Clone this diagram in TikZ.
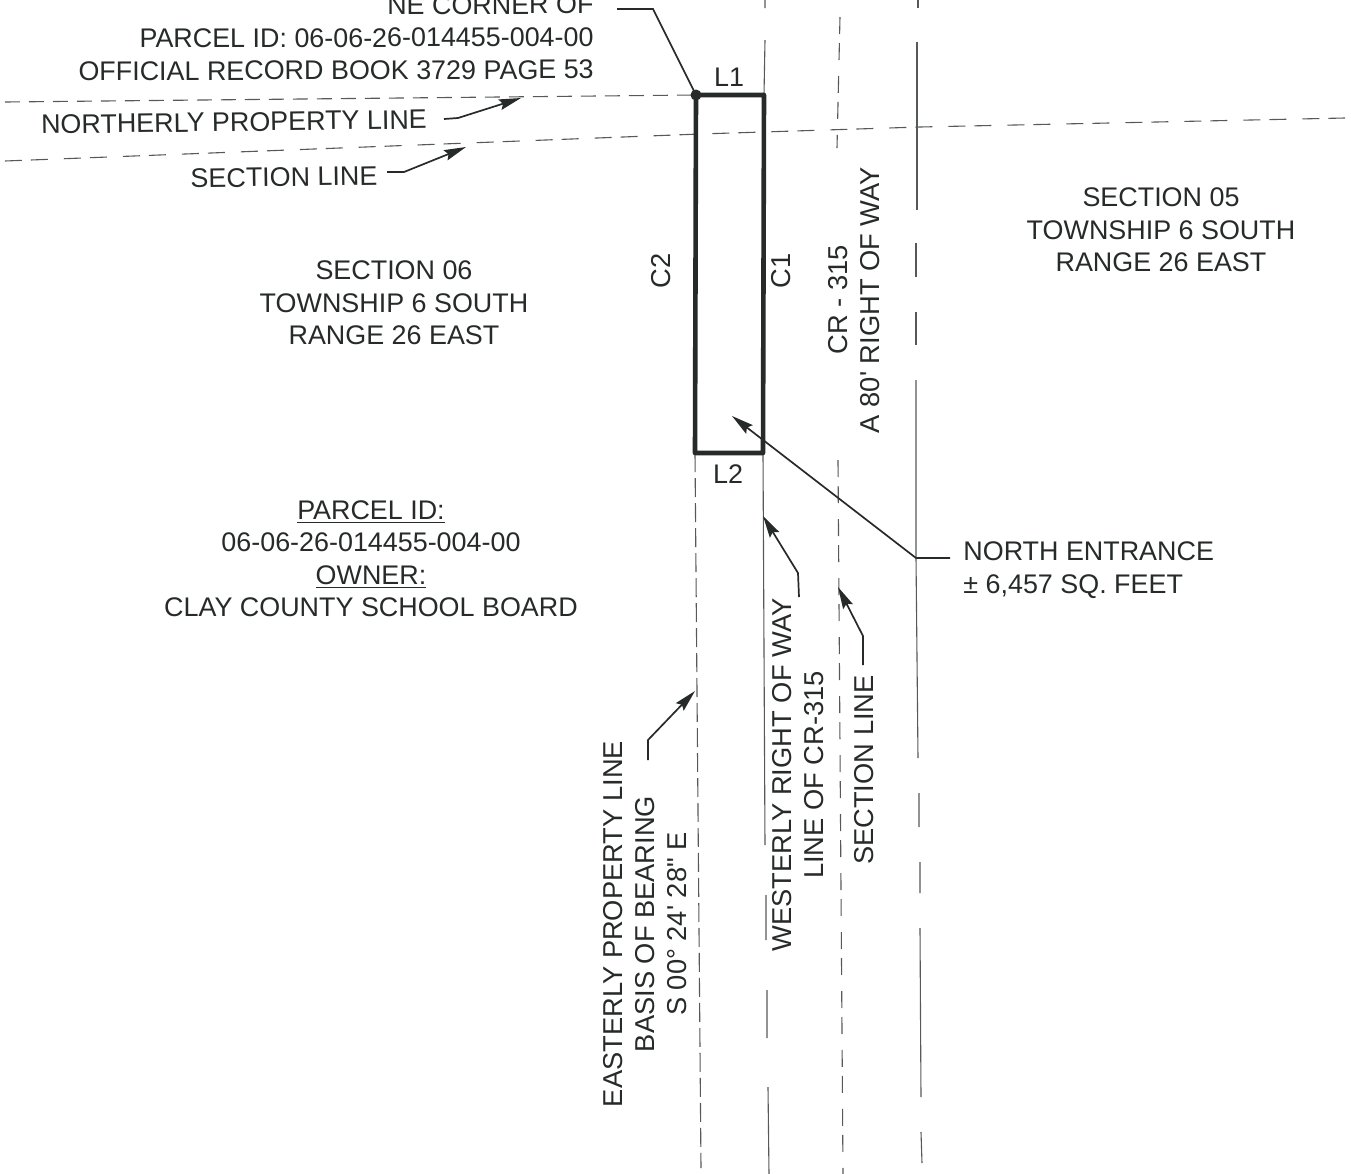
\documentclass[tikz,border=0pt]{standalone}
\usepackage{fontspec}
\setmainfont{Liberation Sans}[Ligatures=TeXOff]
\usetikzlibrary{arrows.meta, positioning}
\definecolor{ink}{HTML}{262A28}
\definecolor{lineink}{HTML}{555957}
\tikzset{
  label/.style={inner sep=0pt, align=center, text=ink, font=\fontsize{13.45}{16.25}\selectfont},
  vlabel/.style={label, rotate=90, font=\fontsize{13.65}{16.1}\selectfont},
  parcel/.style={line width=2.3pt, draw=ink, line join=round},
  solidln/.style={line width=0.55pt, draw=lineink},
  pairln/.style={solidln, dash pattern=on 8.5pt off 4.5pt on 8.5pt off 8pt},
  dashln/.style={solidln, dash pattern=on 9.5pt off 3pt},
  northln/.style={solidln, dash pattern=on 7.5pt off 4.5pt},
  leader/.style={line width=0.85pt, draw=ink, -{Stealth[length=11pt, width=5.4pt, inset=1.6pt]}},
}
\begin{document}
\begin{tikzpicture}[x=0.5pt, y=-0.5pt]
          \useasboundingbox (0,0) rectangle (1351,1174);
          \clip (0,0) rectangle (1351,1174);

          \coordinate (nw) at (696,95);
          \coordinate (ne) at (764,95);
          \coordinate (se) at (763,453);
          \coordinate (sw) at (695,453);

          % property and section lines
          \draw[northln] (5,102) -- (nw);
          \draw[pairln] (5,161) -- (700,134) -- (920,127) -- (1345,118);
          \draw[dashln] (sw) -- (701,1168);
          \draw[solidln] (765,0) -- (765,8) (765,40) -- (ne);
          \draw[solidln] (se) -- (765,845) (766,895) -- (766,940) (767,990) -- (767,1038) (768,1087) -- (769,1174);
          \draw[pairln] (840,17) -- (837,148);
          \draw[pairln] (838,460) -- (843,1174);
          \draw[solidln] (918,0) -- (918,8) (917,42) -- (917,210) (916,243) -- (916,277) (916,312) -- (916,345);
          \draw[solidln] (916,380) -- (916,557) -- (918,758) (919,793) -- (919,827) (920,862) -- (920,893) (920,928) -- (921,1097) (921,1132) -- (922,1163);

          \draw[parcel] (nw) -- (ne) -- (se) -- (sw) -- cycle;
          \fill[ink] (nw) circle (5.5);

          % text
          \node[label, anchor=east, align=right, rotate=0.2] (corner) at (594,37) {NE CORNER OF\\PARCEL ID: 06-06-26-014455-004-00\\OFFICIAL RECORD BOOK 3729 PAGE 53};
          \node[label, rotate=0.8] (northerly) at (234,122) {NORTHERLY PROPERTY LINE};
          \node[label, rotate=0.8] (secline) at (284,177) {SECTION LINE};
          \node[label] (sec06) at (394,303) {SECTION 06\\TOWNSHIP 6 SOUTH\\RANGE 26 EAST};
          \node[label] (sec05) at (1161,230) {SECTION 05\\TOWNSHIP 6 SOUTH\\RANGE 26 EAST};
          \node[label] (owner) at (371,558.5) {\underline{PARCEL ID:}\\06-06-26-014455-004-00\\\underline{OWNER:}\\CLAY COUNTY SCHOOL BOARD};
          \node[label, anchor=west, align=left] (entrance) at (963,570) {NORTH ENTRANCE\\± 6,457 SQ. FEET};
          \node[label] (l1) at (729,77) {L1};
          \node[label] (l2) at (728,474) {L2};
          \node[vlabel] (c2) at (661,271) {C2};
          \node[vlabel] (c1) at (781,271) {C1};
          \node[vlabel] (row) at (854,300) {CR - 315\\A 80' RIGHT OF WAY};
          \node[vlabel] (easterly) at (645,924) {EASTERLY PROPERTY LINE\\BASIS OF BEARING\\S 00° 24' 28" E};
          \node[vlabel] (westerly) at (798,775) {WESTERLY RIGHT OF WAY\\LINE OF CR-315};
          \node[vlabel] (seclinev) at (864,770) {SECTION LINE};

          % leaders
          \coordinate (cornerA) at (617,9);
          \coordinate (cornerB) at (653,9);
          \coordinate (northL) at (444,119);
          \coordinate (northK) at (458,118);
          \coordinate (northT) at (521,98);
          \coordinate (secL) at (387,172);
          \coordinate (secK) at (404,172);
          \coordinate (secT) at (466,147);
          \coordinate (entL) at (950,558);
          \coordinate (entK) at (916,558);
          \coordinate (entT) at (732,416);
          \coordinate (westL) at (799,597);
          \coordinate (westK) at (798,573);
          \coordinate (westT) at (763,516);
          \coordinate (midL) at (863,665);
          \coordinate (midK) at (863,636);
          \coordinate (midT) at (838,587);
          \coordinate (eastL) at (648,760);
          \coordinate (eastK) at (648,740);
          \coordinate (eastT) at (695,691);

          \draw[leader, -] (cornerA) -- (cornerB) -- (nw);
          \draw[leader] (northL) -- (northK) -- (northT);
          \draw[leader] (secL) -- (secK) -- (secT);
          \draw[leader] (entL) -- (entK) -- (entT);
          \draw[leader] (westL) -- (westK) -- (westT);
          \draw[leader] (midL) -- (midK) -- (midT);
          \draw[leader] (eastL) -- (eastK) -- (eastT);
    \end{tikzpicture}
\end{document}
